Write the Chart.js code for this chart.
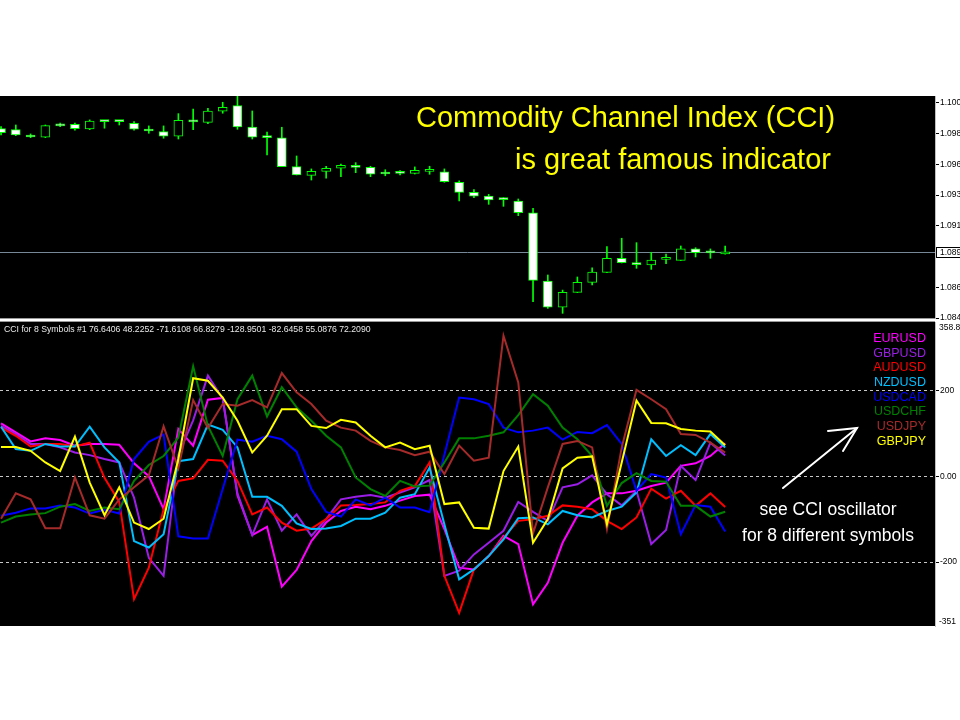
<!DOCTYPE html>
<html>
<head>
<meta charset="utf-8">
<script src="https://cdn.jsdelivr.net/npm/chart.js@4.4.0/dist/chart.umd.min.js"></script>
<style>
  body { margin: 0; background: #fff; width: 960px; height: 720px; position: relative; overflow: hidden; font-family: "Liberation Sans", Arial, sans-serif; }
  .abs { position: absolute; }
  .pane { position: absolute; left: 0; width: 935px; background: #000; }
  canvas { position: absolute; left: 0; }
  #title1, #title2 { position: absolute; color: #ffff00; font-size: 29px; line-height: 29px; white-space: nowrap; }
  .note { position: absolute; left: 728px; width: 200px; text-align: center; color: #fff; font-size: 17.5px; line-height: 20px; white-space: nowrap; }
  #legend { position: absolute; right: 34px; top: 331px; text-align: right; font-size: 12.5px; line-height: 14.66px; }
  #header { position: absolute; left: 4px; top: 324px; color: #e8e8e8; font-size: 8.7px; line-height: 10px; white-space: nowrap; }
  .edge { position: absolute; left: 939px; font-size: 8.5px; line-height: 10px; color: #000; }
</style>
</head>
<body>
<div class="pane" style="top:96px;height:222px"></div>
<div class="pane" style="top:322px;height:304px"></div>
<canvas id="priceChart" width="960" height="226" style="top:96px"></canvas>
<canvas id="cciChart" width="960" height="305" style="top:322px"></canvas>
<div class="abs" style="left:0;top:318px;width:935px;height:1px;background:#9a9a9a"></div>
<div class="abs" style="left:0;top:321px;width:935px;height:1px;background:#9a9a9a"></div>

<div id="title1" style="left:416px;top:102.5px">Commodity Channel Index (CCI)</div>
<div id="title2" style="left:515px;top:144.5px">is great famous indicator</div>
<div id="header"></div>
<div id="legend"></div>
<div class="note" style="top:499px">see CCI oscillator</div>
<div class="note" style="top:524.6px">for 8 different symbols</div>
<div class="edge" style="top:322px">358.8</div>
<div class="edge" style="top:616px">-351</div>
<svg class="abs" style="left:0;top:0" width="960" height="720">
  <g stroke="#fff" stroke-width="2" fill="none" stroke-linecap="round">
    <line x1="783" y1="488" x2="857" y2="428"/>
    <polyline points="828,431 857,428 843,451"/>
  </g>
</svg>

<script>
// EURUSD H1 candles
const open = [1.09868,1.09860,1.09820,1.09803,1.09900,1.09900,1.09865,1.09923,1.09923,1.09908,
  1.09865,1.09845,1.09811,1.09930,1.09915,1.09998,1.10040,1.09880,1.09805,1.09798,
  1.09583,1.09518,1.09548,1.09571,1.09593,1.09578,1.09533,1.09538,1.09533,1.09548,
  1.09545,1.09466,1.09391,1.09363,1.09341,1.09326,1.09238,1.08727,1.08532,1.08642,
  1.08717,1.08792,1.08897,1.08864,1.08847,1.08889,1.08882,1.08967,1.08942,1.08929];
const high = [1.09883,1.09895,1.09828,1.09895,1.09910,1.09910,1.09933,1.09925,1.09925,1.09920,
  1.09888,1.09888,1.09980,1.10015,1.10020,1.10065,1.10110,1.10000,1.09841,1.09878,
  1.09663,1.09566,1.09586,1.09603,1.09613,1.09586,1.09560,1.09553,1.09581,1.09586,
  1.09566,1.09476,1.09411,1.09376,1.09351,1.09341,1.09271,1.08772,1.08659,1.08757,
  1.08826,1.08984,1.09047,1.09014,1.08942,1.08929,1.08989,1.08976,1.08967,1.08989];
const low = [1.09820,1.09815,1.09800,1.09800,1.09883,1.09856,1.09860,1.09871,1.09895,1.09856,
  1.09833,1.09796,1.09790,1.09860,1.09905,1.09983,1.09863,1.09790,1.09671,1.09583,
  1.09521,1.09483,1.09496,1.09508,1.09538,1.09508,1.09515,1.09521,1.09528,1.09526,
  1.09466,1.09326,1.09351,1.09301,1.09286,1.09216,1.08572,1.08522,1.08485,1.08640,
  1.08697,1.08790,1.08862,1.08822,1.08814,1.08856,1.08880,1.08907,1.08897,1.08927];
const close = [1.09838,1.09820,1.09805,1.09890,1.09888,1.09868,1.09925,1.09920,1.09920,1.09863,
  1.09850,1.09811,1.09930,1.09918,1.10000,1.10028,1.09880,1.09803,1.09800,1.09583,
  1.09521,1.09548,1.09571,1.09593,1.09578,1.09526,1.09528,1.09533,1.09556,1.09553,
  1.09471,1.09391,1.09363,1.09334,1.09336,1.09238,1.08732,1.08532,1.08642,1.08717,
  1.08794,1.08897,1.08864,1.08849,1.08884,1.08894,1.08967,1.08939,1.08937,1.08946];

const priceTicks = [1.1006, 1.0983, 1.0960, 1.0937, 1.0914, 1.0868, 1.0845];
const priceLabels = ['1.100', '1.098', '1.096', '1.093', '1.091', '1.086', '1.084'];
const currentLabel = '1.089';

// CCI values per symbol
const eurusd = [123,102,81,88,84,71,75,75,73,30,0,-77,110,71,178,182,-45,-137,-118,-257,-218,-151,-108,-81,-71,-77,-69,-57,-46,-43,-123,-213,-217,-186,-139,-158,-298,-248,-155,-92,-61,-40,-40,-34,-23,-15,24,30,47,76.6406];
const gbpusd = [117,98,75,75,67,55,49,40,32,-50,-190,-232,50,130,234,180,-40,-137,-54,-127,-89,-139,-100,-54,-48,-44,-50,-38,-26,-9,-232,-220,-182,-155,-127,-60,-83,-104,-26,-19,2,-42,-68,-34,-158,-125,24,-9,78,48.2252];
const audusd = [113,94,69,75,75,69,78,-4,-60,-286,-213,-77,-11,-5,38,36,-11,-89,-73,-108,-127,-122,-100,-68,-67,-65,-61,-34,-23,32,-232,-318,-217,-186,-143,-104,-100,-92,-68,-71,-77,-104,-123,-96,-29,-52,-34,-69,-40,-71.6108];
const nzdusd = [115,63,59,75,69,69,115,67,32,-151,-166,-135,35,40,120,108,67,-48,-48,-69,-110,-123,-122,-116,-99,-99,-85,-50,-42,20,-112,-240,-217,-186,-147,-98,-96,-112,-81,-91,-96,-81,-71,-38,86,47,72,49,98,66.8279];
const usdcad = [-92,-85,-75,-75,-68,-73,-87,-78,-87,40,80,97,-140,-145,-145,-30,85,80,94,86,57,-30,-83,-94,-54,-68,-50,-73,-73,-84,50,183,179,168,113,102,106,113,85,103,100,119,75,-34,5,-3,-135,-67,-71,-128.9501];
const usdchf = [-108,-94,-89,-86,-71,-65,-81,-73,-77,-11,26,47,90,256,117,47,179,234,139,207,160,129,94,67,-3,-30,-46,-11,-24,-22,32,88,88,94,102,142,191,164,113,86,47,-69,-16,7,-11,-13,-69,-69,-94,-82.6458];
const usdjpy = [-99,-40,-54,-121,-121,-3,-91,-99,-54,-26,2,116,18,177,112,168,164,177,160,240,195,168,129,113,106,82,67,61,49,57,5,71,36,43,327,218,-133,-26,75,82,67,-123,67,201,179,156,98,96,78,55.0876];
const gbpjpy = [68,68,59,32,12,92,-15,-91,-26,-108,-123,-99,40,228,222,183,129,55,94,156,156,117,112,131,125,94,67,78,63,71,-65,-61,-120,-122,12,69,-155,-100,18,43,46,-112,32,176,124,123,110,106,104,72.2090];

const symbols = ['EURUSD', 'GBPUSD', 'AUDUSD', 'NZDUSD', 'USDCAD', 'USDCHF', 'USDJPY', 'GBPJPY'];
const cciSeries = [eurusd, gbpusd, audusd, nzdusd, usdcad, usdchf, usdjpy, gbpjpy];
const colors = ['#ff00ff', '#9a1ee6', '#ff0000', '#00bfff', '#0000ff', '#008000', '#a52a2a', '#ffff00'];

const cciTicks = [200, 0, -200];
const cciLabels = ['200', '0.00', '-200'];

const xMin = -0.07, xMax = 63.2;
const tickFont = {family: 'Liberation Sans', size: 8.5};

// header + legend
document.getElementById('header').textContent =
  'CCI for 8 Symbols #1 ' + cciSeries.map(s => s[s.length - 1].toFixed(4)).join(' ');
const legend = document.getElementById('legend');
symbols.forEach((name, k) => {
  const d = document.createElement('div');
  d.textContent = name;
  d.style.color = colors[k];
  legend.appendChild(d);
});

const noPad = s => { s.width = 25; s.paddingTop = 0; s.paddingBottom = 0; };

const priceLine = {
  id: 'priceLine',
  beforeDatasetsDraw(chart) {
    const {ctx, chartArea: a, scales: {y}} = chart;
    const py = Math.round(y.getPixelForValue(close[close.length - 1])) + 0.5;
    ctx.save();
    ctx.strokeStyle = '#778899';
    ctx.lineWidth = 1;
    ctx.beginPath();
    ctx.moveTo(a.left, py);
    ctx.lineTo(a.right, py);
    ctx.stroke();
    ctx.restore();
  },
  afterDraw(chart) {
    const {ctx, chartArea: a, scales: {y}} = chart;
    const py = Math.round(y.getPixelForValue(close[close.length - 1]));
    ctx.save();
    ctx.fillStyle = '#fff';
    ctx.fillRect(a.right + 1, py - 5, 24, 10);
    ctx.strokeStyle = '#000';
    ctx.lineWidth = 1;
    ctx.strokeRect(a.right + 1.5, py - 4.5, 26, 10);
    ctx.fillStyle = '#000';
    ctx.font = '8.5px "Liberation Sans"';
    ctx.textBaseline = 'middle';
    ctx.fillText(currentLabel, a.right + 5, py + 0.5);
    ctx.restore();
  }
};

const idx = open.map((_, i) => i);

new Chart(document.getElementById('priceChart'), {
  type: 'bar',
  data: {
    datasets: [
      {
        data: idx.map(i => ({x: i, y: [open[i], close[i]]})),
        backgroundColor: idx.map(i => close[i] < open[i] ? '#ffffff' : '#000000'),
        borderColor: '#00ff00',
        borderWidth: 1,
        borderSkipped: false,
        barThickness: 9,
        minBarLength: 2,
        grouped: false,
        order: 0
      },
      {
        data: idx.map(i => ({x: i, y: [low[i], high[i]]})),
        backgroundColor: '#00ff00',
        barThickness: 1,
        grouped: false,
        order: 1
      }
    ]
  },
  options: {
    responsive: false,
    animation: false,
    layout: {padding: {bottom: 4}},
    plugins: {legend: {display: false}, tooltip: {enabled: false}},
    scales: {
      x: {type: 'linear', min: xMin, max: xMax, display: false, offset: false},
      y: {
        position: 'right',
        min: 1.0845,
        max: 1.10112,
        afterBuildTicks: s => { s.ticks = priceTicks.map(v => ({value: v})); },
        afterFit: noPad,
        ticks: {callback: (v, i) => priceLabels[i], color: '#000', font: tickFont, padding: 1},
        grid: {drawOnChartArea: false, tickLength: 4, tickColor: '#000'},
        border: {color: '#c0c0c0'}
      }
    }
  },
  plugins: [priceLine]
});

new Chart(document.getElementById('cciChart'), {
  type: 'line',
  data: {
    datasets: symbols.map((name, k) => ({
      label: name,
      data: cciSeries[k].map((v, i) => ({x: i, y: v})),
      borderColor: colors[k],
      borderWidth: 2,
      pointRadius: 0,
      tension: 0,
      order: symbols.length - 1 - k
    }))
  },
  options: {
    responsive: false,
    animation: false,
    plugins: {legend: {display: false}, tooltip: {enabled: false}},
    scales: {
      x: {type: 'linear', min: xMin, max: xMax, display: false},
      y: {
        position: 'right',
        min: -351,
        max: 358.8,
        afterBuildTicks: s => { s.ticks = cciTicks.map(v => ({value: v})); },
        afterFit: noPad,
        ticks: {callback: (v, i) => cciLabels[i], color: '#000', font: tickFont, padding: 1},
        grid: {color: '#c8c8c8', lineWidth: 1, tickLength: 4, tickColor: '#000'},
        border: {color: '#c0c0c0', dash: [3, 3]}
      }
    }
  }
});
</script>
</body>
</html>
